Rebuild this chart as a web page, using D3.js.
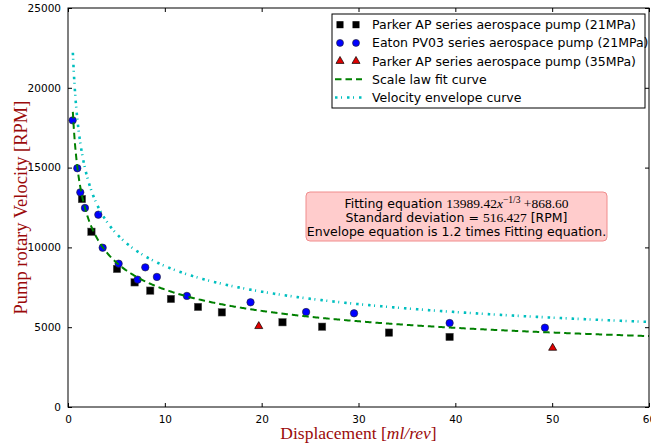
<!DOCTYPE html>
<html>
<head>
<meta charset="utf-8">
<script src="https://cdn.jsdelivr.net/npm/d3@7"></script>
<style>
  body { margin: 0; background: #fff; }
</style>
</head>
<body>
<div id="chart"></div>
<script>
// Parker AP series 21MPa (black squares)
var parker21X = [1.44, 2.42, 5.06, 6.88, 8.49, 10.63, 13.43, 15.89, 22.15, 26.24, 33.15, 39.41];
var parker21Y = [13030, 10980, 8650, 7810, 7290, 6770, 6270, 5930, 5310, 5030, 4660, 4390];
// Eaton PV03 series 21MPa (blue circles)
var eatonX = [0.48, 0.96, 1.27, 1.75, 3.13, 3.58, 5.23, 7.19, 7.98, 9.18, 12.28, 18.85, 24.59, 29.54, 39.41, 49.25];
var eatonY = [17960, 14960, 13450, 12470, 12050, 9980, 8980, 7980, 8750, 8150, 6960, 6560, 5950, 5870, 5260, 4970];
// Parker AP series 35MPa (red triangles)
var parker35X = [19.7, 50.05];
var parker35Y = [5060, 3700];
// fit parameters as written in the chart
var fitA = 13989.42, fitB = 868.60, envFactor = 1.2, fitStd = 516.427;
var xTicks = [0, 10, 20, 30, 40, 50, 60];
var yTicks = [0, 5000, 10000, 15000, 20000, 25000];
var legendLabels = ['Parker AP series aerospace pump (21MPa)', 'Eaton PV03 series aerospace pump (21MPa)',
    'Parker AP series aerospace pump (35MPa)', 'Scale law fit curve', 'Velocity envelope curve'];

var width = 651, height = 447;
var mLeft = 68, mRight = 649, mTop = 8, mBottom = 407;

var x = d3.scaleLinear().domain([0, 60]).range([mLeft, mRight]);
var y = d3.scaleLinear().domain([0, 25000]).range([mBottom, mTop]);

var svg = d3.select('#chart').append('svg')
    .attr('width', width).attr('height', height)
    .attr('font-family', '"DejaVu Sans", sans-serif');

var zip = function(a, b) { return a.map(function(v, i) { return [v, b[i]]; }); };
var fit = function(d) { return fitA * Math.pow(d, -1 / 3) + fitB; };
var curveX = d3.range(0.5, 60.01, 0.1);

// markers
var g = svg.append('g');
g.selectAll('rect.p21').data(zip(parker21X, parker21Y)).enter().append('rect')
    .attr('x', function(d) { return x(d[0]) - 3.7; })
    .attr('y', function(d) { return y(d[1]) - 3.7; })
    .attr('width', 7.4).attr('height', 7.4)
    .attr('fill', '#000').attr('stroke', '#555').attr('stroke-width', 0.5);
g.selectAll('circle.eaton').data(zip(eatonX, eatonY)).enter().append('circle')
    .attr('cx', function(d) { return x(d[0]); })
    .attr('cy', function(d) { return y(d[1]); })
    .attr('r', 3.7)
    .attr('fill', '#0000ff').attr('stroke', '#222').attr('stroke-width', 0.6);
var tri = d3.symbol().type(d3.symbolTriangle).size(28);
g.selectAll('path.p35').data(zip(parker35X, parker35Y)).enter().append('path')
    .attr('d', tri)
    .attr('transform', function(d) { return 'translate(' + x(d[0]) + ',' + y(d[1]) + ')'; })
    .attr('fill', '#e00000').attr('stroke', '#000').attr('stroke-width', 0.7);

// curves
var line = d3.line().x(function(d) { return x(d[0]); }).y(function(d) { return y(d[1]); });
svg.append('path')
    .attr('d', line(curveX.map(function(d) { return [d, fit(d)]; })))
    .attr('fill', 'none').attr('stroke', '#008000').attr('stroke-width', 2)
    .attr('stroke-dasharray', '6.5,4');
svg.append('path')
    .attr('d', line(curveX.map(function(d) { return [d, envFactor * fit(d)]; })))
    .attr('fill', 'none').attr('stroke', '#00bfbf').attr('stroke-width', 2.6)
    .attr('stroke-dasharray', '2.5,3.5,1,5');

// axes, inward ticks on all four sides
var fmt = d3.format('d');
var ax = svg.append('g').attr('transform', 'translate(0,' + mBottom + ')')
    .call(d3.axisBottom(x).tickValues(xTicks).tickFormat(fmt).tickSizeInner(-4).tickSizeOuter(0).tickPadding(9));
var ay = svg.append('g').attr('transform', 'translate(' + mLeft + ',0)')
    .call(d3.axisLeft(y).tickValues(yTicks).tickFormat(fmt).tickSizeInner(-4).tickSizeOuter(0).tickPadding(7));
var at = svg.append('g').attr('transform', 'translate(0,' + mTop + ')')
    .call(d3.axisTop(x).tickValues(xTicks).tickFormat('').tickSizeInner(-4).tickSizeOuter(0));
var ar = svg.append('g').attr('transform', 'translate(' + mRight + ',0)')
    .call(d3.axisRight(y).tickValues(yTicks).tickFormat('').tickSizeInner(-4).tickSizeOuter(0));
[ax, ay, at, ar].forEach(function(a) {
    a.selectAll('.domain').remove();
    a.selectAll('line').attr('stroke', '#000').attr('stroke-width', 1);
    a.selectAll('text').attr('font-family', '"DejaVu Sans", sans-serif').attr('font-size', 10.5).attr('fill', '#000');
});
svg.append('rect').attr('x', mLeft).attr('y', mTop)
    .attr('width', mRight - mLeft).attr('height', mBottom - mTop)
    .attr('fill', 'none').attr('stroke', '#000').attr('stroke-width', 1);

// axis labels
var serif = '"Liberation Serif", serif';
var xl = svg.append('text').attr('x', (mLeft + mRight) / 2).attr('y', 439)
    .attr('text-anchor', 'middle').attr('fill', '#9b0a0a')
    .attr('font-family', serif).attr('font-size', 17.5);
xl.append('tspan').text('Displacement [');
xl.append('tspan').attr('font-style', 'italic').text('ml/rev');
xl.append('tspan').text(']');
svg.append('text')
    .attr('transform', 'translate(26.5,' + (mTop + mBottom) / 2 + ') rotate(-90)')
    .attr('text-anchor', 'middle').attr('fill', '#9b0a0a')
    .attr('font-family', serif).attr('font-size', 18.5)
    .text('Pump rotary Velocity [RPM]');

// legend
var lg = svg.append('g');
lg.append('rect').attr('x', 332).attr('y', 14).attr('width', 313).attr('height', 94)
    .attr('fill', '#fff').attr('stroke', '#000').attr('stroke-width', 1);
var rowY = function(i) { return 24.7 + i * 18.2; };
legendLabels.forEach(function(label, i) {
    lg.append('text').attr('x', 372).attr('y', rowY(i) + 4.5)
        .attr('font-size', 12.5).attr('fill', '#000').text(label);
});
[340, 356].forEach(function(mx) {
    lg.append('rect').attr('x', mx - 3.5).attr('y', rowY(0) - 3.5).attr('width', 7).attr('height', 7)
        .attr('fill', '#000');
    lg.append('circle').attr('cx', mx).attr('cy', rowY(1)).attr('r', 3.5)
        .attr('fill', '#0000ff').attr('stroke', '#222').attr('stroke-width', 0.6);
    lg.append('path').attr('d', tri).attr('transform', 'translate(' + mx + ',' + rowY(2) + ')')
        .attr('fill', '#e00000').attr('stroke', '#000').attr('stroke-width', 0.7);
});
lg.append('line').attr('x1', 335).attr('x2', 362).attr('y1', rowY(3)).attr('y2', rowY(3))
    .attr('stroke', '#008000').attr('stroke-width', 2).attr('stroke-dasharray', '6.5,4');
lg.append('line').attr('x1', 335).attr('x2', 362).attr('y1', rowY(4)).attr('y2', rowY(4))
    .attr('stroke', '#00bfbf').attr('stroke-width', 2.6).attr('stroke-dasharray', '2.5,3.5,1,5');

// annotation box
var bx = 306, by = 192, bw = 301, bh = 49, cx = bx + bw / 2;
svg.append('rect').attr('x', bx).attr('y', by).attr('width', bw).attr('height', bh)
    .attr('rx', 4).attr('fill', '#ffcccc').attr('stroke', '#f08c8c').attr('stroke-width', 1);
var t1 = svg.append('text').attr('x', cx).attr('y', 207.5).attr('text-anchor', 'middle').attr('font-size', 12.5);
t1.append('tspan').text('Fitting equation ');
t1.append('tspan').attr('font-family', serif).attr('font-size', 13.5).text(fitA.toFixed(2));
t1.append('tspan').attr('font-family', serif).attr('font-size', 13.5).attr('font-style', 'italic').text('x');
t1.append('tspan').attr('font-family', serif).attr('font-size', 9.5).attr('dy', -5).text('\u22121/3');
t1.append('tspan').attr('font-family', serif).attr('font-size', 13.5).attr('dy', 5).text(' +' + fitB.toFixed(2));
var t2 = svg.append('text').attr('x', cx).attr('y', 221.5).attr('text-anchor', 'middle').attr('font-size', 12.5);
t2.append('tspan').text('Standard deviation = ');
t2.append('tspan').attr('font-family', serif).attr('font-size', 13.5).text(fitStd.toFixed(3));
t2.append('tspan').text(' [RPM]');
svg.append('text').attr('x', cx).attr('y', 235.5).attr('text-anchor', 'middle').attr('font-size', 12.5)
    .text('Envelope equation is ' + envFactor + ' times Fitting equation.');
</script>
</body>
</html>
